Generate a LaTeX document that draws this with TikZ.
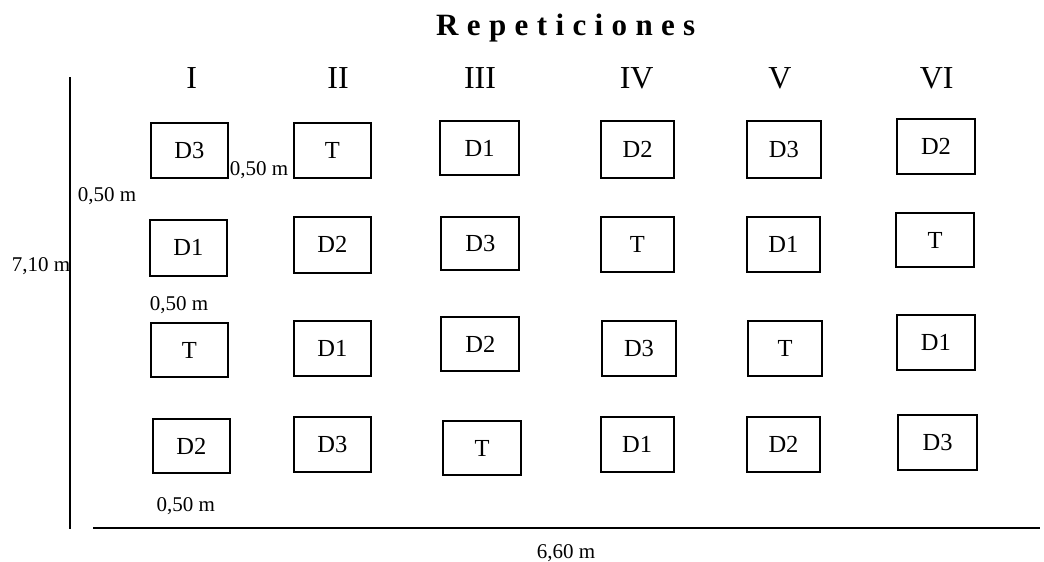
\documentclass[tikz,border=0pt]{standalone}
\usepackage{fontspec}
\setmainfont{Liberation Serif}
\newfontfamily\titlefont[LetterSpace=27]{Liberation Serif}
\begin{document}
\begin{tikzpicture}[x=1pt,y=-1pt,
  plot/.style={draw=black,line width=2pt,rectangle,inner sep=0pt,
    font=\fontsize{24.5}{28}\selectfont},
  rep/.style={anchor=base,inner sep=0pt,font=\fontsize{32}{36}\selectfont},
  dim/.style={anchor=base,inner sep=0pt,font=\fontsize{21}{24}\selectfont},
  axis/.style={line width=2.2pt}]
\useasboundingbox (0,0) rectangle (1044,562);
% title
\node[anchor=base west,inner sep=0pt,font=\titlefont\bfseries\fontsize{31}{34}\selectfont] (title) at (436,35) {Repeticiones};
% column headers
\node[rep] (hI) at (191.7,88.3) {I};
\node[rep] (hII) at (338,88.3) {II};
\node[rep] (hIII) at (480,88.3) {III};
\node[rep] (hIV) at (636.7,88.3) {IV};
\node[rep] (hV) at (780,88.3) {V};
\node[rep] (hVI) at (936.7,88.3) {VI};
% plots: \plotbox{name}{x1}{y1}{x2}{y2}{label}
\newcommand\plotbox[6]{\node[plot,minimum width={(#4-#2)*1pt},minimum height={(#5-#3)*1pt}] (#1) at ({(#2+#4)/2},{(#3+#5)/2}) {#6};}
% row 1
\plotbox{a1}{150.7}{123.3}{228}{178}{D3}
\plotbox{b1}{294}{123.3}{370.7}{178}{T}
\plotbox{c1}{440}{120.7}{519.3}{175.3}{D1}
\plotbox{d1}{601}{121}{674.3}{177.7}{D2}
\plotbox{e1}{747}{121}{820.7}{177.7}{D3}
\plotbox{f1}{896.7}{119.3}{975.3}{173.7}{D2}
% row 2
\plotbox{a2}{149.7}{220}{227}{275.7}{D1}
\plotbox{b2}{294}{216.7}{370.7}{272.7}{D2}
\plotbox{c2}{441.3}{217.3}{519.3}{269.7}{D3}
\plotbox{d2}{601}{216.7}{673.7}{271.7}{T}
\plotbox{e2}{746.7}{216.7}{820}{271.7}{D1}
\plotbox{f2}{896}{213.3}{974}{266.7}{T}
% row 3
\plotbox{a3}{150.7}{323.3}{228}{377.3}{T}
\plotbox{b3}{294}{321}{370.7}{375.7}{D1}
\plotbox{c3}{441.3}{317.3}{519.3}{371.3}{D2}
\plotbox{d3}{602.3}{321}{675.7}{375.7}{D3}
\plotbox{e3}{748.3}{321}{821.7}{375.7}{T}
\plotbox{f3}{896.7}{315.3}{975}{370.3}{D1}
% row 4
\plotbox{a4}{153}{419}{229.7}{473.3}{D2}
\plotbox{b4}{294}{417}{370.7}{471.7}{D3}
\plotbox{c4}{443.3}{421}{520.7}{475}{T}
\plotbox{d4}{600.7}{416.7}{673.7}{471.7}{D1}
\plotbox{e4}{746.7}{416.7}{820.3}{471.7}{D2}
\plotbox{f4}{898.3}{415.3}{977}{470}{D3}
% dimension labels
\node[dim] (dA) at (107,201.7) {0,50 m};
\node[dim] (dB) at (259,175) {0,50 m};
\node[dim] (dC) at (179,310) {0,50 m};
\node[dim] (dD) at (185.8,511.7) {0,50 m};
\node[dim] (dH) at (41,271.7) {7,10 m};
\node[dim] (dW) at (566,558.3) {6,60 m};
% axes
\coordinate (vtop) at (69.7,77.3);
\coordinate (vbot) at (69.7,529.3);
\coordinate (hleft) at (93.3,527.7);
\coordinate (hright) at (1040,527.7);
\draw[axis] (vtop) -- (vbot);
\draw[axis] (hleft) -- (hright);
\end{tikzpicture}
\end{document}
